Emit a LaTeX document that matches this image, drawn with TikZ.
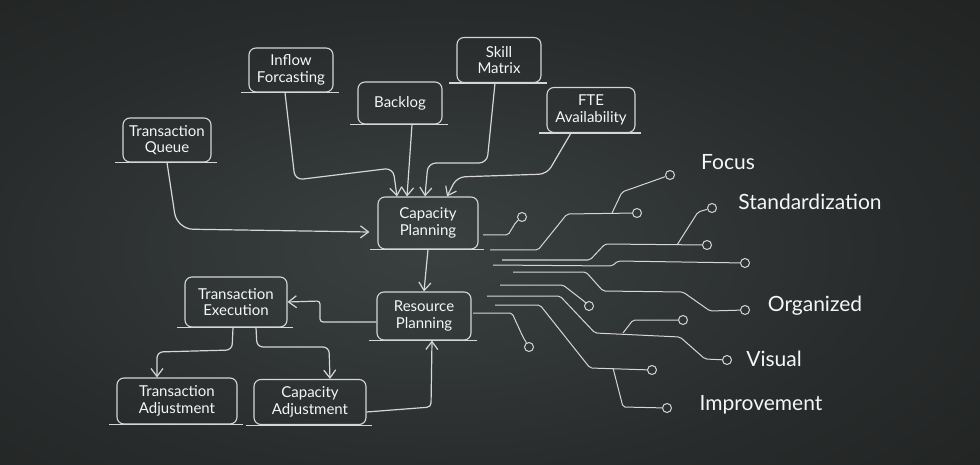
\documentclass[tikz,border=0pt]{standalone}
\usepackage{fontspec}
\setmainfont{Lato}
\usetikzlibrary{arrows.meta,positioning}

\definecolor{chalk}{HTML}{D6D6D6}
\definecolor{chalktext}{HTML}{F6F6F6}
\definecolor{bglight}{HTML}{3A4040}
\definecolor{bgmid}{HTML}{292C2C}
\definecolor{bgdark}{HTML}{181818}
\pgfdeclareradialshading{board}{\pgfpoint{0bp}{0bp}}{color(0bp)=(bglight); color(20bp)=(bgmid); color(50bp)=(bgdark)}

\begin{document}
\begin{tikzpicture}[
  x=1pt, y=-1pt,
  box/.style={draw=chalk, line width=1.1pt, rounded corners=7pt, align=center, text=chalktext,
    font=\fontsize{15}{16.5}\selectfont, inner sep=2pt,
    append after command={([xshift=-7pt]\tikzlastnode.south west) edge[draw=chalk, line width=1.1pt] ([xshift=5pt]\tikzlastnode.south east)}},
  word/.style={text=chalktext, font=\fontsize{21}{24}\selectfont},
  pad/.style={circle, draw=chalk, line width=1pt, minimum size=9pt, inner sep=0pt},
  link/.style={draw=chalk, line width=1.2pt, rounded corners=8pt, ->},
  trace/.style={draw=chalk, line width=1pt, rounded corners=2pt},
  >={Straight Barb[length=8pt,width=12pt]}
]
\useasboundingbox (0,0) rectangle (980,465);

% Board
\begin{scope}
  \clip (0,0) rectangle (980,465);
  \shade[shading=board] (-140,-30) rectangle (1000,530);
\end{scope}

% Inputs on top
\node[box, minimum width=88pt, minimum height=44pt] (queue) at (167,140) {Transaction\\Queue};
\node[box, minimum width=84pt, minimum height=44pt] (inflow) at (291,70) {Inflow\\Forcasting};
\node[box, minimum width=84pt, minimum height=42pt] (backlog) at (400,103) {Backlog};
\node[box, minimum width=84pt, minimum height=45pt] (skill) at (499,60) {Skill\\Matrix};
\node[box, minimum width=88pt, minimum height=45pt] (fte) at (591,110) {FTE\\Availability};

% Planning
\node[box, minimum width=100pt, minimum height=52pt] (cap) at (428,223) {Capacity\\Planning};
\node[box, minimum width=94pt, minimum height=48pt] (res) at (424,316) {Resource\\Planning};

% Execution and adjustments
\node[box, minimum width=102pt, minimum height=50pt] (exec) at (236,302) {Transaction\\Execution};
\node[box, minimum width=120pt, minimum height=46pt] (tadj) at (177,401) {Transaction\\Adjustment};
\node[box, minimum width=112pt, minimum height=45pt] (cadj) at (310,402) {Capacity\\Adjustment};

% Connections
\draw[link, rounded corners=16pt] (queue.south) -- (177,229) -- ([xshift=-8pt,yshift=-9pt]cap.west);
\draw[link] ([xshift=-6pt]inflow.south) -- (295,180) -- (393,168) -- ([xshift=-31pt]cap.north);
\draw[link] ([xshift=12pt]backlog.south) -- ([xshift=-21pt]cap.north);
\draw[link] ([xshift=-4pt]skill.south) -- (487,163) -- (428,163) -- ([xshift=-3pt]cap.north);
\draw[link] ([xshift=-20pt]fte.south) -- (547,174) -- (457,177) -- ([xshift=19pt]cap.north);
\draw[link] (cap.south) -- (res.north);
\draw[link, rounded corners=3pt] ([yshift=-6pt]res.west) -- (320,322) -- (320,301) -- (exec.east);
\draw[link, rounded corners=6pt] ([xshift=-3pt]exec.south) -- (232,350) -- (157,352) -- ([xshift=-20pt]tadj.north);
\draw[link, rounded corners=6pt] ([xshift=20pt]exec.south) -- (257,347) -- (329,347) -- ([xshift=20pt]cadj.north);
\draw[link, rounded corners=4pt] ([yshift=-10pt]cadj.east) -- (431,407) -- ([xshift=8pt]res.south);

% Pads
\node[pad] (padA) at (522,217) {};
\node[pad] (padB) at (637,213) {};
\node[pad] (padFocus) at (670,175) {};
\node[pad] (padC) at (707,245) {};
\node[pad] (padStd) at (712,208) {};
\node[pad] (padD) at (745,263) {};
\node[pad] (padOrg) at (745,310) {};
\node[pad] (padE) at (589,306) {};
\node[pad] (padF) at (683,320) {};
\node[pad] (padVis) at (727,360) {};
\node[pad] (padG) at (652,370) {};
\node[pad] (padImp) at (667,408) {};
\node[pad] (padH) at (529,347) {};

% Trace starts and branch points
\coordinate (sA) at (483,235);
\coordinate (sB) at (490,250);
\coordinate (sC) at (502,260);
\coordinate (sD) at (493,265);
\coordinate (sE) at (513,272);
\coordinate (sF) at (500,285);
\coordinate (sG) at (487,296);
\coordinate (sH) at (495,305);
\coordinate (sI) at (473,313);
\coordinate (jB) at (612,213);
\coordinate (jC) at (677,245);
\coordinate (jG) at (623,333);
\coordinate (jH) at (613,368);

% Traces
\draw[trace] (sA) -- (508,235) -- (516,222) -- (padA);
\draw[trace] (sB) -- (538,250) -- (567,214) -- (padB);
\draw[trace] (jB) -- (622,192) -- (padFocus);
\draw[trace] (sC) -- (590,260) -- (605,244) -- (padC);
\draw[trace] (jC) -- (698,212) -- (padStd);
\draw[trace] (sD) -- (612,266) -- (618,261) -- (padD);
\draw[trace] (sE) -- (586,272) -- (603,291) -- (683,292) -- (710,311) -- (padOrg);
\draw[trace] (sF) -- (563,285) -- (585,302) -- (padE);
\draw[trace] (sG) -- (560,296) -- (595,333) -- (680,337) -- (705,359) -- (padVis);
\draw[trace] (jG) -- (633,320) -- (padF);
\draw[trace] (sH) -- (540,305) -- (590,368) -- (padG);
\draw[trace] (jH) -- (623,407) -- (padImp);
\draw[trace] (sI) -- (512,313) -- (523,337) -- (padH);

% Labels
\node[word] (focus) at (728,162) {Focus};
\node[word] (std) at (810,202) {Standardization};
\node[word] (org) at (815,306) {Organized};
\node[word] (vis) at (774,359) {Visual};
\node[word] (imp) at (761,405) {Improvement};

\end{tikzpicture}
\end{document}
